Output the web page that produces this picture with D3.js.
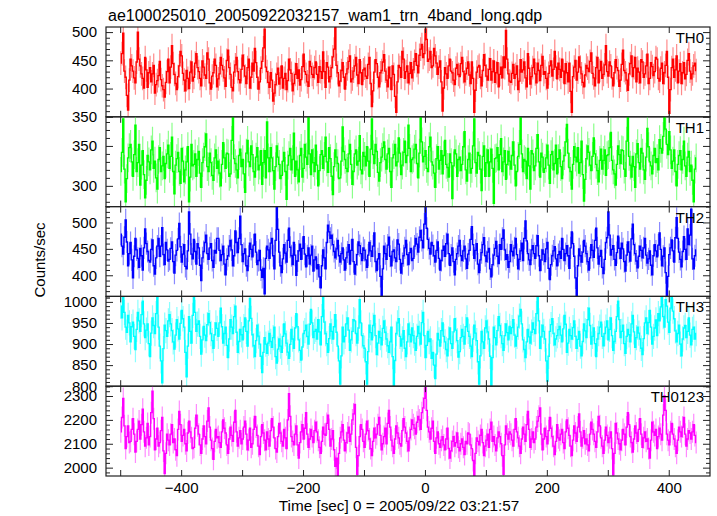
<!DOCTYPE html>
<html><head><meta charset="utf-8">
<script src="https://cdn.jsdelivr.net/npm/d3@7"></script>
<style>
html,body{margin:0;padding:0;background:#fff;}
svg{display:block;font-family:"Liberation Sans",Arial,Helvetica,sans-serif;}
</style></head><body>
<svg id="chart" width="717" height="516"></svg>
<script>
const titleText = "ae100025010_20050922032157_wam1_trn_4band_long.qdp";
const xLabel = "Time [sec] 0 = 2005/09/22 03:21:57";
const yLabel = "Counts/sec";
const seriesNames = ["TH0", "TH1", "TH2", "TH3", "TH0123"];
const timeStart = -499;
const binSize = 2;

const th0 = [
445,462,498,431,420,388,362,415,452,440,431,419,410,447,500,452,440,426,418,401,455,433,402,428,437,412,426,441,392,407,414,423,448,416,405,398,385,411,430,452,
410,438,476,444,425,409,398,421,440,466,458,427,415,396,432,418,400,429,447,413,420,445,462,437,430,418,405,449,438,424,418,463,452,410,399,422,428,452,441,403,
417,426,455,441,433,419,404,450,468,437,425,402,396,429,442,455,430,416,410,434,459,440,422,409,437,452,401,420,445,431,471,446,420,399,412,436,448,472,505,438,
430,411,402,428,415,378,392,407,425,436,408,419,440,401,418,427,398,414,452,433,427,396,409,425,444,418,433,406,416,439,461,430,425,412,404,448,439,425,420,437,
447,425,411,439,430,418,465,430,402,446,438,412,421,437,456,470,508,441,428,405,413,432,446,420,399,426,435,448,458,412,417,431,440,455,424,409,451,428,407,433,
436,422,418,443,455,409,368,396,429,451,444,420,403,428,432,447,460,431,415,403,438,419,398,440,425,386,358,412,441,437,420,466,452,418,430,440,410,427,446,419,
433,448,462,441,428,459,470,478,455,462,505,487,448,452,466,437,440,471,458,445,425,438,449,412,360,401,437,426,418,440,452,431,428,415,407,436,443,425,421,444,
455,430,412,426,436,447,424,409,447,418,358,397,429,438,441,420,405,432,460,441,422,415,434,453,415,430,449,411,428,446,403,425,438,419,456,437,503,452,426,413,
411,427,443,418,425,440,398,413,451,429,433,447,419,403,462,436,408,421,437,452,426,410,445,432,414,441,457,425,430,418,401,427,440,449,422,434,466,438,417,445,
434,420,452,431,409,444,428,412,445,395,358,421,438,450,415,429,456,438,426,411,403,424,441,436,430,448,463,427,419,405,437,455,410,432,448,418,425,442,476,430,
422,447,440,419,405,428,451,437,432,404,415,443,468,432,428,415,397,426,444,458,421,437,455,412,436,429,410,451,447,420,426,440,461,409,418,446,439,423,430,455,
452,418,413,436,445,409,428,441,466,420,356,398,437,452,420,433,458,410,431,444,409,428,446,417,425,450,462,431,417,426,440,445,432];

const th1 = [
318,342,384,321,280,309,335,348,352,330,312,339,376,318,329,352,301,326,344,314,285,307,338,330,320,345,356,322,331,310,296,333,348,318,325,337,309,328,340,351,
322,337,361,318,290,326,334,342,318,303,347,331,305,320,330,349,280,311,352,325,327,340,312,333,343,316,298,329,336,349,365,324,318,341,329,313,307,335,345,322,
331,316,300,327,354,335,322,341,340,312,315,357,386,334,328,320,310,338,346,324,333,315,292,341,357,330,324,350,339,318,311,336,348,320,326,344,302,329,344,310,
380,335,318,348,335,319,296,324,350,336,327,309,313,331,342,318,283,326,338,347,320,333,366,312,331,320,305,338,347,311,322,352,336,327,386,340,314,345,329,318,
351,326,300,319,339,344,322,337,361,330,317,348,334,312,289,324,345,336,328,309,310,331,374,343,333,322,318,340,352,327,302,318,340,345,326,331,363,320,315,342,
337,325,349,331,312,346,384,339,328,352,343,317,306,329,336,348,355,333,321,340,347,318,298,335,339,352,325,330,360,341,314,326,342,356,329,338,376,347,318,333,
335,346,352,328,310,341,386,355,330,337,344,322,318,349,361,330,326,316,298,334,349,321,332,344,315,338,357,327,323,311,340,329,284,325,345,340,312,333,336,319,
327,349,368,320,306,333,341,316,322,350,384,329,316,342,338,321,294,337,350,312,329,345,312,330,346,322,278,334,335,348,320,339,359,318,330,344,308,327,343,331,
321,338,355,326,300,318,337,352,386,340,318,333,331,309,347,325,296,344,340,319,325,347,364,330,311,341,336,317,322,335,351,326,303,339,343,320,328,351,315,334,
345,324,309,331,338,355,377,341,323,318,296,327,349,336,330,348,316,329,356,314,281,308,334,350,342,326,319,337,360,340,327,319,305,332,346,321,332,345,313,338,
339,348,367,332,320,315,301,327,350,339,328,345,344,321,312,356,386,337,326,311,337,324,298,340,353,329,321,347,341,320,308,336,372,349,330,325,315,338,347,329,
334,320,358,347,341,362,386,371,352,339,368,345,322,331,345,318,300,327,338,344,320,333,356,325,312,336,343,318,326,307,280,321,335];

const th2 = [
478,455,440,472,505,463,418,441,462,429,395,436,470,448,432,415,451,437,410,452,488,460,445,428,425,449,467,418,402,433,455,470,436,455,490,439,420,462,448,427,
430,451,463,426,404,438,447,469,498,454,425,440,458,417,412,446,520,478,440,431,468,445,421,460,452,419,390,433,445,462,476,441,430,452,460,428,415,447,442,470,
470,447,428,439,455,421,401,430,437,455,466,448,418,437,484,462,443,470,512,458,426,441,450,418,409,436,461,449,435,457,478,444,420,428,447,410,396,413,365,432,
455,448,432,461,470,437,412,466,528,487,444,418,405,431,458,442,425,466,489,453,437,420,462,438,400,427,446,459,430,451,473,440,416,437,452,421,438,455,408,429,
435,412,420,397,376,418,448,433,412,462,495,482,470,476,458,445,433,450,466,437,425,441,452,429,410,433,444,458,421,447,468,426,402,420,439,463,456,441,428,452,
447,429,415,438,462,446,436,455,480,426,409,431,441,398,362,412,455,441,430,457,472,436,418,445,448,433,426,467,459,430,404,422,437,452,466,439,420,443,451,428,
432,455,470,459,444,472,485,466,452,497,530,489,468,451,440,462,456,437,425,447,463,432,410,428,447,455,436,460,478,441,419,438,452,426,401,430,441,455,466,437,
428,446,455,431,413,440,447,468,492,458,432,447,460,421,405,429,443,458,471,437,426,444,451,412,397,420,438,451,464,436,422,458,449,470,486,448,430,439,415,426,
458,445,437,452,470,439,412,430,446,461,428,470,503,465,441,429,420,448,456,441,432,456,475,437,409,429,448,440,426,450,462,413,392,420,437,446,454,431,418,439,
445,432,470,449,428,441,456,437,413,452,482,460,436,395,362,418,450,437,425,444,466,455,441,426,410,433,458,447,434,466,489,452,421,436,447,415,403,430,462,471,
520,476,438,449,456,430,419,443,474,451,432,461,450,426,408,438,463,444,427,469,497,458,441,427,414,436,455,447,433,452,470,438,423,431,446,419,401,437,458,446,
435,457,480,449,418,436,452,405,362,398,439,452,467,446,425,471,509,470,444,430,416,445,473,449,430,488,458,476,525,431,412,437,448];

const th3 = [
990,962,1010,975,940,928,968,950,905,941,952,918,887,935,975,955,930,970,1002,948,915,933,948,901,870,926,962,944,925,972,1010,940,895,860,808,889,945,932,918,955,
970,948,932,905,888,921,958,936,912,949,980,960,940,880,822,895,965,930,902,968,1010,975,930,947,955,918,876,910,942,921,908,946,972,951,925,908,890,922,950,937,
918,950,985,941,902,925,940,897,868,912,958,940,925,965,990,928,880,906,935,922,910,941,962,930,895,955,1008,961,922,896,870,908,945,919,900,871,832,880,915,900,
878,902,925,906,892,915,940,870,855,888,912,895,880,918,948,924,902,881,866,899,935,912,890,938,972,941,910,885,862,893,925,932,945,918,900,947,982,950,915,930,
935,912,958,929,898,965,1010,952,925,901,880,913,948,930,912,941,970,928,895,860,805,872,940,905,918,948,962,933,885,910,930,958,955,925,902,938,1005,950,920,896,
890,858,805,882,945,927,910,944,968,920,875,902,930,915,898,937,955,928,912,896,880,905,940,870,802,861,925,950,960,918,895,912,932,890,870,905,948,923,905,938,
920,902,885,918,942,925,900,951,975,920,868,897,930,906,912,866,880,850,818,876,925,910,895,932,950,918,905,887,872,912,938,901,890,929,960,933,908,869,882,915,
935,918,900,941,962,930,918,895,870,912,945,926,908,858,805,872,930,905,890,938,955,929,912,871,800,868,940,915,898,932,965,944,920,901,885,920,948,927,910,942,
925,939,958,921,895,918,940,966,982,948,910,887,868,905,935,917,902,928,950,935,925,972,1010,955,890,917,945,930,912,860,812,871,930,946,960,925,898,912,920,934,
942,921,905,936,968,947,880,902,935,920,912,939,955,918,890,911,930,895,872,906,948,931,915,958,985,944,900,918,938,901,870,912,925,940,952,918,896,925,940,955,
910,935,962,920,885,906,930,965,1002,958,915,930,945,901,878,918,935,922,905,948,968,929,892,915,940,926,912,890,875,913,950,962,925,951,980,940,900,918,938,957,
920,972,955,988,1012,965,940,1005,990,952,928,985,1010,978,960,931,905,925,945,900,872,912,938,944,915,930,962,921,898,935,940,912,925];

const th0123 = [
2150,2210,2290,2175,2080,2130,2175,2105,2110,2160,2205,2140,2065,2110,2160,2195,2120,2180,2245,2150,2090,2125,2185,2095,2130,2230,2320,2205,2075,2120,2165,2090,2105,2155,2210,2070,1975,2060,2140,2115,
2095,2140,2180,2105,2120,2075,2050,2160,2235,2180,2110,2135,2160,2100,2070,2145,2195,2150,2125,2080,2085,2165,2220,2175,2140,2095,2060,2120,2175,2130,2100,2195,2250,2170,2115,2080,2035,2110,2160,2125,
2130,2105,2085,2150,2200,2165,2145,2095,2060,2120,2170,2135,2110,2190,2240,2150,2090,2125,2155,2100,2120,2170,2195,2140,2075,2115,2165,2085,2100,2160,2215,2170,2135,2090,2055,2130,2180,2145,2115,2075,
2150,2120,2090,2155,2205,2170,2125,2080,2065,2130,2185,2145,2110,2090,2160,2125,2080,2200,2310,2215,2130,2110,2095,2140,2175,2095,2040,2105,2150,2180,2120,2165,2230,2140,2085,2120,2160,2130,2105,2155,
2190,2150,2115,2085,2060,2110,2170,2140,2135,2185,2220,2160,2090,2120,2155,2075,2005,2040,1968,2060,2125,2150,2180,2115,2070,2105,2145,2170,2110,2140,2200,2225,2265,2085,1972,2050,2130,2180,2160,2110,
2085,2140,2195,2155,2120,2080,2050,2110,2165,2125,2140,2180,2210,2135,2075,2100,2130,2165,2100,2185,2240,2170,2115,2090,2060,2120,2175,2145,2125,2100,2090,2155,2205,2170,2145,2110,2070,2125,2160,2200,
2180,2165,2140,2190,2215,2200,2160,2230,2250,2290,2335,2240,2170,2150,2120,2165,2195,2110,2060,2125,2150,2100,2085,2115,2130,2095,2075,2120,2165,2080,2040,2070,2110,2130,2090,2105,2145,2085,2070,2100,
2120,2085,2055,2110,2100,2145,2140,2095,2080,2030,1965,2060,2125,2110,2095,2135,2160,2105,2050,2090,2115,2140,2085,2160,2190,2110,2130,2095,2070,2125,2150,2130,2100,2050,1972,2095,2175,2140,2120,2150,
2140,2115,2090,2160,2205,2150,2125,2090,2060,2120,2170,2140,2110,2180,2235,2160,2085,2120,2150,2105,2120,2170,2195,2215,2250,2140,2075,2120,2165,2130,2100,2155,2210,2165,2130,2090,2055,2110,2180,2125,
2115,2140,2160,2105,2080,2150,2200,2165,2135,2090,2050,2115,2175,2145,2110,2170,2225,2150,2090,2125,2155,2100,2120,2095,2070,2140,2190,2160,2140,2110,2085,2150,2215,2175,2125,2090,2060,2115,2170,2135,
2105,2125,2150,2080,1970,2060,2185,2145,2120,2100,2075,2115,2160,2140,2095,2170,2230,2180,2130,2105,2065,2120,2175,2145,2110,2160,2205,2140,2085,2125,2150,2110,2120,2080,2040,2115,2190,2150,2135,2160,
2080,2130,2165,2140,2115,2220,2300,2240,2140,2115,2095,2150,2185,2140,2120,2090,2060,2115,2170,2150,2130,2170,2210,2140,2090,2120,2155,2145,2120,2150,2180,2135,2105];

const errors = [21, 18, 21, 30, 46];
const yDomains = [[350, 509], [274, 386.5], [360, 530], [800, 1013], [1965, 2341]];
const yMajorTicks = [[350, 400, 450, 500], [300, 350], [400, 450, 500], [800, 850, 900, 950, 1000], [2000, 2100, 2200, 2300]];
const yMinorStep = [10, 10, 10, 10, 20];
const xTickValues = [-500, -400, -300, -200, -100, 0, 100, 200, 300, 400];
const xLabelTicks = [-400, -200, 0, 200, 400];
const darkColors = ["#ff0000", "#00ff00", "#0000ff", "#00ffff", "#ff00ff"];
const lightColors = ["#ff8a8a", "#8aff8a", "#8a8aff", "#8affff", "#ff8aff"];

const seriesValues = [th0, th1, th2, th3, th0123];

const L = 106, R = 710, T = 27, B = 476;
const nP = seriesValues.length;
const ph = (B - T) / nP;
const FONT = "Liberation Sans, Arial, Helvetica, sans-serif";
const frameColor = "#222";

const svg = d3.select("#chart");
const defs = svg.append("defs");
const x = d3.scaleLinear().domain([-523.3, 467.7]).range([L, R]);
const fmt = d3.format("d");

function styleAxis(sel) {
  sel.select(".domain").remove();
  sel.attr("font-family", FONT).attr("font-size", 15).attr("color", frameColor);
  sel.selectAll(".tick line").attr("stroke-width", 1);
  sel.selectAll(".tick text").attr("fill", "#000");
}

seriesValues.forEach((vals, k) => {
  const top = T + k * ph, bot = top + ph;
  const y = d3.scaleLinear().domain(yDomains[k]).range([bot, top]);
  const err = errors[k];
  const pts = vals.map((v, i) => ({ t: timeStart + i * binSize, v }));

  defs.append("clipPath").attr("id", "clip" + k)
    .append("rect").attr("x", L).attr("y", top).attr("width", R - L).attr("height", ph);

  const dg = svg.append("g").attr("clip-path", `url(#clip${k})`);
  dg.selectAll("line.err").data(pts).join("line")
    .attr("class", "err")
    .attr("x1", d => x(d.t)).attr("x2", d => x(d.t))
    .attr("y1", d => y(d.v - err)).attr("y2", d => y(d.v + err))
    .attr("stroke", lightColors[k]).attr("stroke-width", 1.2);
  dg.append("path").datum(pts)
    .attr("fill", "none").attr("stroke", darkColors[k]).attr("stroke-width", 1.3)
    .attr("d", d3.line().x(d => x(d.t)).y(d => y(d.v)).curve(d3.curveStep));

  const [d0, d1] = yDomains[k];
  const step = yMinorStep[k];
  const minor = d3.range(Math.ceil(d0 / step) * step, d1 + 0.001, step)
    .filter(v => !yMajorTicks[k].includes(v));

  svg.append("g").attr("transform", `translate(${L},0)`)
    .call(d3.axisLeft(y).tickValues(yMajorTicks[k]).tickSize(-7).tickPadding(9).tickFormat(fmt))
    .call(styleAxis);
  svg.append("g").attr("transform", `translate(${L},0)`)
    .call(d3.axisLeft(y).tickValues(minor).tickSize(-4).tickFormat(""))
    .call(styleAxis);
  svg.append("g").attr("transform", `translate(${R},0)`)
    .call(d3.axisRight(y).tickValues(yMajorTicks[k]).tickSize(-7).tickFormat(""))
    .call(styleAxis);
  svg.append("g").attr("transform", `translate(${R},0)`)
    .call(d3.axisRight(y).tickValues(minor).tickSize(-4).tickFormat(""))
    .call(styleAxis);

  svg.append("g").attr("transform", `translate(0,${top})`)
    .call(d3.axisTop(x).tickValues(xTickValues).tickSize(-6).tickFormat(""))
    .call(styleAxis);
  svg.append("g").attr("transform", `translate(0,${bot})`)
    .call(d3.axisBottom(x).tickValues(xTickValues).tickSize(-6).tickPadding(6)
      .tickFormat(d => (k === nP - 1 && xLabelTicks.includes(d)) ? fmt(d) : ""))
    .call(styleAxis);

  svg.append("rect").attr("x", L).attr("y", top).attr("width", R - L).attr("height", ph)
    .attr("fill", "none").attr("stroke", frameColor).attr("stroke-width", 1.2);

  svg.append("text").attr("x", 704).attr("y", top + 16)
    .attr("text-anchor", "end").attr("font-size", 15).attr("font-family", FONT)
    .text(seriesNames[k]);
});

svg.append("text").attr("x", 108).attr("y", 21).attr("font-size", 16).attr("font-family", FONT)
  .text(titleText);
svg.append("text").attr("x", 399).attr("y", 511).attr("text-anchor", "middle")
  .attr("font-size", 15.3).attr("font-family", FONT).text(xLabel);
svg.append("text").attr("transform", "translate(45,260) rotate(-90)").attr("text-anchor", "middle")
  .attr("font-size", 15).attr("font-family", FONT).text(yLabel);
</script>
</body></html>
